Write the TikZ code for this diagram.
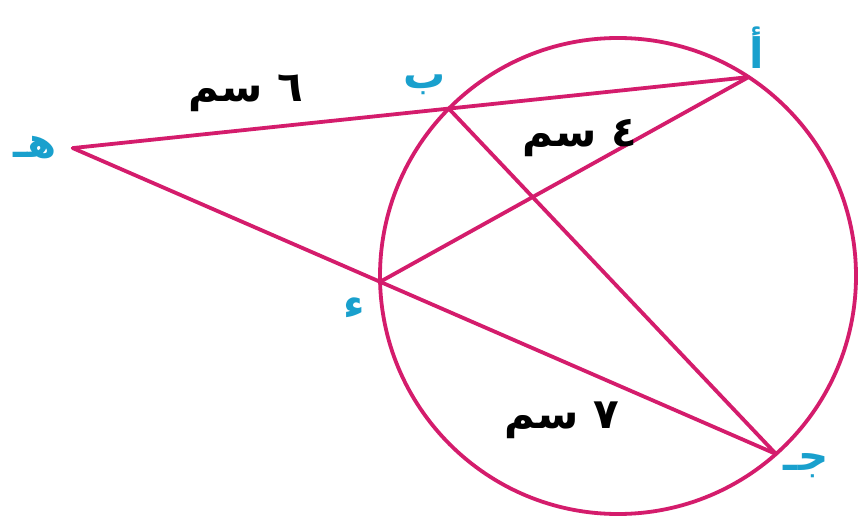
\documentclass[tikz,border=0pt]{standalone}
\usepackage{fontspec}
\newfontfamily\arabicfont[Script=Arabic]{DejaVu Sans}
\TeXXeTstate=1
\definecolor{chordcol}{RGB}{212,28,108}
\definecolor{lettercol}{RGB}{25,160,205}
\begin{document}
\begin{tikzpicture}[x=1pt,y=1pt,
  seg/.style={draw=chordcol,line width=3.8pt,line cap=round,line join=round},
  ptlabel/.style={text=lettercol,font=\arabicfont\bfseries\fontsize{42}{42}\selectfont,inner sep=0pt},
  lenlabel/.style={text=black,font=\arabicfont\bfseries\fontsize{42}{42}\selectfont,inner sep=0pt}]
\useasboundingbox[fill=white] (0,0) rectangle (862,528);
\coordinate (O) at (618,252);
\coordinate (A) at (748.6,450.9);
\coordinate (B) at (448.8,419.4);
\coordinate (D) at (380.1,246.2);
\coordinate (C) at (776,74);
\coordinate (E) at (intersection of A--B and C--D);
\draw[seg] (O) circle[radius=238];
\draw[seg] (E) -- (A);
\draw[seg] (E) -- (C);
\draw[seg] (B) -- (C);
\draw[seg] (D) -- (A);
\node[ptlabel] (lA) at (757,480) {\beginR أ\endR};
\node[ptlabel] (lB) at (425,443) {\beginR ب\endR};
\node[ptlabel] (lD) at (354,220) {\beginR ء\endR};
\node[ptlabel] (lC) at (806,62) {\beginR جـ\endR};
\node[ptlabel] (lE) at (35,380) {\beginR هـ\endR};
\node[lenlabel] (l6) at (246,435) {\beginR ٦ سم\endR};
\node[lenlabel] (l4) at (580,390) {\beginR ٤ سم\endR};
\node[lenlabel] (l7) at (562,108) {\beginR ٧ سم\endR};
\end{tikzpicture}
\end{document}
